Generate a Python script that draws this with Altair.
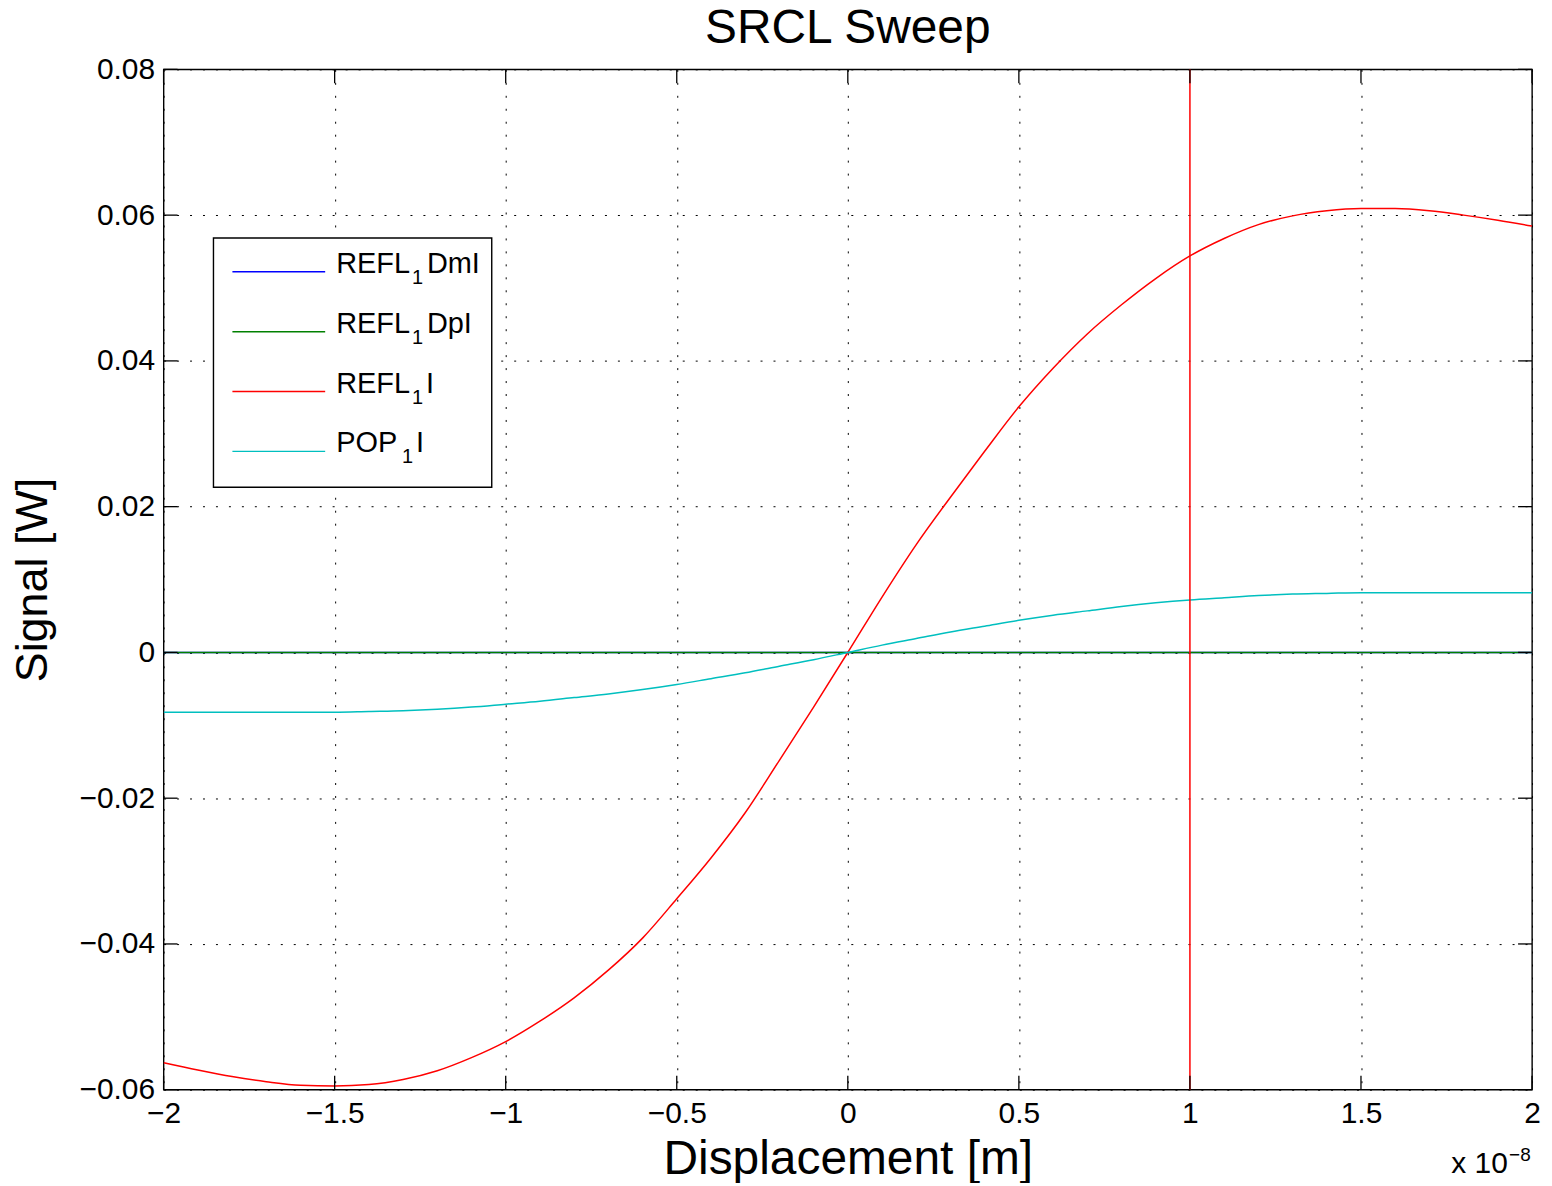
import altair as alt
import pandas as pd

# ---------------- data (x in units of 1e-8 m) ----------------
x_vals = [-2.0, -1.9, -1.8, -1.7, -1.6, -1.5, -1.4, -1.3, -1.2, -1.1, -1.0,
          -0.9, -0.8, -0.7, -0.6, -0.5, -0.4, -0.3, -0.2, -0.1, 0.0,
          0.1, 0.2, 0.3, 0.4, 0.5, 0.6, 0.7, 0.8, 0.9, 1.0,
          1.1, 1.2, 1.3, 1.4, 1.5, 1.6, 1.7, 1.8, 1.9, 2.0]

refl_dmi = [0.0] * 41
refl_dpi = [0.0] * 41
refl_i = [-0.0563, -0.0573, -0.0582, -0.0589, -0.0594, -0.0595, -0.0593, -0.0586, -0.0574, -0.0556, -0.0534,
          -0.0506, -0.0474, -0.0436, -0.0392, -0.0338, -0.0282, -0.0220, -0.0148, -0.0075, 0.0,
          0.0076, 0.0148, 0.0213, 0.0276, 0.0337, 0.0390, 0.0437, 0.0477, 0.0513, 0.0544,
          0.0568, 0.0587, 0.0599, 0.0606, 0.0609, 0.0609, 0.0606, 0.0600, 0.0593, 0.0585]
pop_i = [-0.0082, -0.0082, -0.0082, -0.0082, -0.0082, -0.0082, -0.0081, -0.0080, -0.0078, -0.0075, -0.0071,
         -0.0067, -0.0062, -0.0057, -0.0051, -0.0044, -0.0036, -0.0028, -0.0019, -0.0010, 0.0,
         0.0010, 0.0019, 0.0028, 0.0036, 0.0044, 0.0051, 0.0057, 0.0063, 0.0068, 0.0072,
         0.0075, 0.0078, 0.0080, 0.0081, 0.0082, 0.0082, 0.0082, 0.0082, 0.0082, 0.0082]

series_keys = ["REFL_1DmI", "REFL_1DpI", "REFL_1I", "POP_1I"]
series_vals = [refl_dmi, refl_dpi, refl_i, pop_i]
series_colors = ["#0000ff", "#008000", "#ff0000", "#00bfbf"]

legend_main = ["REFL", "REFL", "REFL", "POP"]
legend_sub = ["1", "1", "1", "1"]
legend_tail = ["DmI", "DpI", "I", "I"]

marker_x = [1.0]
x_ticks = [-2, -1.5, -1, -0.5, 0, 0.5, 1, 1.5, 2]
y_ticks = [-0.06, -0.04, -0.02, 0, 0.02, 0.04, 0.06, 0.08]

title_text = "SRCL Sweep"
x_title = "Displacement [m]"
y_title = "Signal [W]"
exp_base = "x 10"
exp_power = "\u22128"

# ---------------- layout ----------------
W, H = 1372, 1023
FONT = "Liberation Sans"
TICK = 14

xs = alt.Scale(domain=[-2, 2], nice=False, zero=False)
ys = alt.Scale(domain=[-0.06, 0.08], nice=False, zero=False)

label_expr = "replace(format(datum.value, '~g'), '-', '\u2212')"

x_axis = alt.Axis(values=x_ticks, grid=True, gridDash=[2, 11], gridColor="black",
                  gridOpacity={"condition": {"test": "datum.value === 1", "value": 0}, "value": 1},
                  gridWidth=1, ticks=False, domain=False, labelExpr=label_expr,
                  labelFont=FONT, labelFontSize=30, labelColor="black", labelPadding=9,
                  labelFlush=False, labelOverlap=False,
                  title=x_title, titleFont=FONT, titleFontSize=48, titleFontWeight="normal",
                  titleColor="black", titleX=W / 2, titleY=84, titleBaseline="alphabetic",
                  titleAlign="center")
y_axis = alt.Axis(values=y_ticks, grid=True, gridDash=[2, 11], gridColor="black", gridOpacity=1,
                  gridWidth=1, ticks=False, domain=False, labelExpr=label_expr,
                  labelFont=FONT, labelFontSize=30, labelColor="black", labelPadding=9,
                  labelFlush=False, labelOverlap=False,
                  title=y_title, titleFont=FONT, titleFontSize=45, titleFontWeight="normal",
                  titleColor="black", titleAngle=-90, titleX=-117, titleY=H / 2,
                  titleBaseline="alphabetic", titleAlign="center")

layers = []

# data lines (all carry the same axis definition)
for key, vals, col in zip(series_keys, series_vals, series_colors):
    df = pd.DataFrame({"x": x_vals, "y": vals})
    layers.append(alt.Chart(df).mark_line(color=col, strokeWidth=1.5, clip=True,
                                          interpolate="monotone").encode(
        x=alt.X("x:Q", scale=xs, axis=x_axis, title=x_title),
        y=alt.Y("y:Q", scale=ys, axis=y_axis, title=y_title)))

# vertical marker line
layers.append(alt.Chart(pd.DataFrame({"x": marker_x})).mark_rule(color="#ff0000", strokeWidth=1.5).encode(
    x=alt.X("x:Q", scale=xs, axis=x_axis, title=x_title)))

# inward ticks
xt = pd.DataFrame({"v": x_ticks})
yt = pd.DataFrame({"v": y_ticks})
tick_style = dict(color="black", strokeWidth=1.3)
layers.append(alt.Chart(xt).mark_rule(**tick_style).encode(
    x=alt.X("v:Q", scale=xs, axis=x_axis, title=x_title), y=alt.value(H), y2=alt.value(H - TICK)))
layers.append(alt.Chart(xt).mark_rule(**tick_style).encode(
    x=alt.X("v:Q", scale=xs, axis=x_axis, title=x_title), y=alt.value(0), y2=alt.value(TICK)))
layers.append(alt.Chart(yt).mark_rule(**tick_style).encode(
    y=alt.Y("v:Q", scale=ys, axis=y_axis, title=y_title), x=alt.value(0), x2=alt.value(TICK)))
layers.append(alt.Chart(yt).mark_rule(**tick_style).encode(
    y=alt.Y("v:Q", scale=ys, axis=y_axis, title=y_title), x=alt.value(W), x2=alt.value(W - TICK)))

one = pd.DataFrame({"a": [0]})

# chart title (as text above the plot)
layers.append(alt.Chart(one).mark_text(text=title_text, font=FONT, fontSize=48, align="center",
                                       baseline="alphabetic", color="black").encode(
    x=alt.value(W / 2), y=alt.value(-26)))

# legend box
LX0, LX1, LY0, LY1 = 50, 329, 169, 419
layers.append(alt.Chart(one).mark_rect(fill="white", stroke="black", strokeWidth=1.4).encode(
    x=alt.value(LX0), x2=alt.value(LX1), y=alt.value(LY0), y2=alt.value(LY1)))

row_y = [204, 264, 324, 384]
sub_x = [249, 249, 249, 239]
tail_x = [264, 264, 263, 253]
for i in range(4):
    ry = row_y[i]
    layers.append(alt.Chart(one).mark_rule(color=series_colors[i], strokeWidth=1.5).encode(
        x=alt.value(69), x2=alt.value(162), y=alt.value(ry - 1)))
    layers.append(alt.Chart(one).mark_text(text=legend_main[i], font=FONT, fontSize=29, align="left",
                                           baseline="alphabetic", color="black").encode(
        x=alt.value(173), y=alt.value(ry)))
    layers.append(alt.Chart(one).mark_text(text=legend_sub[i], font=FONT, fontSize=20, align="left",
                                           baseline="alphabetic", color="black").encode(
        x=alt.value(sub_x[i]), y=alt.value(ry + 11)))
    layers.append(alt.Chart(one).mark_text(text=legend_tail[i], font=FONT, fontSize=29, align="left",
                                           baseline="alphabetic", color="black").encode(
        x=alt.value(tail_x[i]), y=alt.value(ry)))

# exponent annotation
layers.append(alt.Chart(one).mark_text(text=exp_base, font=FONT, fontSize=30, align="left",
                                       baseline="alphabetic", color="black").encode(
    x=alt.value(1291), y=alt.value(1107)))
layers.append(alt.Chart(one).mark_text(text=exp_power, font=FONT, fontSize=19, align="left",
                                       baseline="alphabetic", color="black").encode(
    x=alt.value(1349), y=alt.value(1094)))

chart = alt.layer(*layers).properties(
    width=W, height=H,
    autosize=alt.AutoSizeParams(type="none"),
    padding={"left": 156, "top": 60, "right": 12, "bottom": 92},
    background="white",
).configure_view(stroke="black", strokeWidth=1.4)

chart.save("out.html", embed_options={"renderer": "svg", "actions": False})
